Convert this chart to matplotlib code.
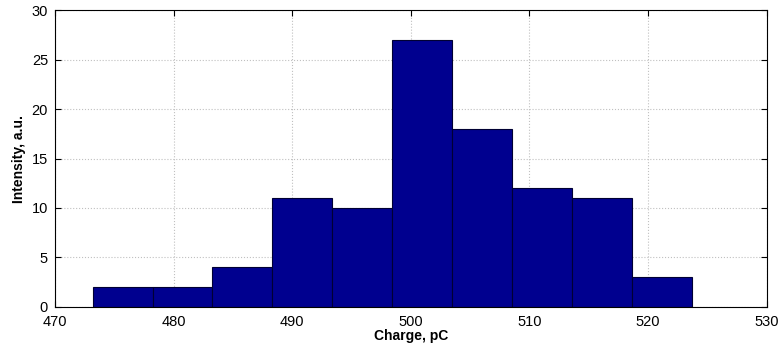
import matplotlib
matplotlib.use("Agg")
import matplotlib.pyplot as plt
import numpy as np

plt.rcParams['font.family'] = ['Liberation Sans', 'DejaVu Sans']

bin_edges = [473.20, 478.26, 483.23, 488.28, 493.34, 498.39, 503.45, 508.50, 513.56, 518.61, 523.67]
counts = [2, 2, 4, 11, 10, 27, 18, 12, 11, 3]
x_ticks = [470, 480, 490, 500, 510, 520, 530]
y_ticks = [0, 5, 10, 15, 20, 25, 30]

fig = plt.figure(figsize=(7.8, 3.48), dpi=100)
ax = fig.add_axes([0.0705, 0.118, 0.9125, 0.853])

edges = np.array(bin_edges)
ax.bar(edges[:-1], counts, width=np.diff(edges), align='edge',
       color='#00008F', edgecolor='#000033', linewidth=0.8, zorder=2)

ax.set_xlim(470, 530)
ax.set_ylim(0, 30)
ax.set_xticks(x_ticks)
ax.set_yticks(y_ticks)
ax.grid(True, linestyle=':', color='#c0c0c0', linewidth=0.8, zorder=0)
ax.set_axisbelow(True)
ax.tick_params(direction='in', top=True, right=True, labelsize=10.5, length=4)
ax.tick_params(axis='x', pad=6)
ax.tick_params(axis='y', pad=5)
for s in ax.spines.values():
    s.set_linewidth(0.8)

ax.set_xlabel('Charge, pC', fontsize=10, fontweight='bold', labelpad=0)
ax.set_ylabel('Intensity, a.u.', fontsize=10, fontweight='bold', labelpad=4)

fig.savefig('out.png', dpi=100)
